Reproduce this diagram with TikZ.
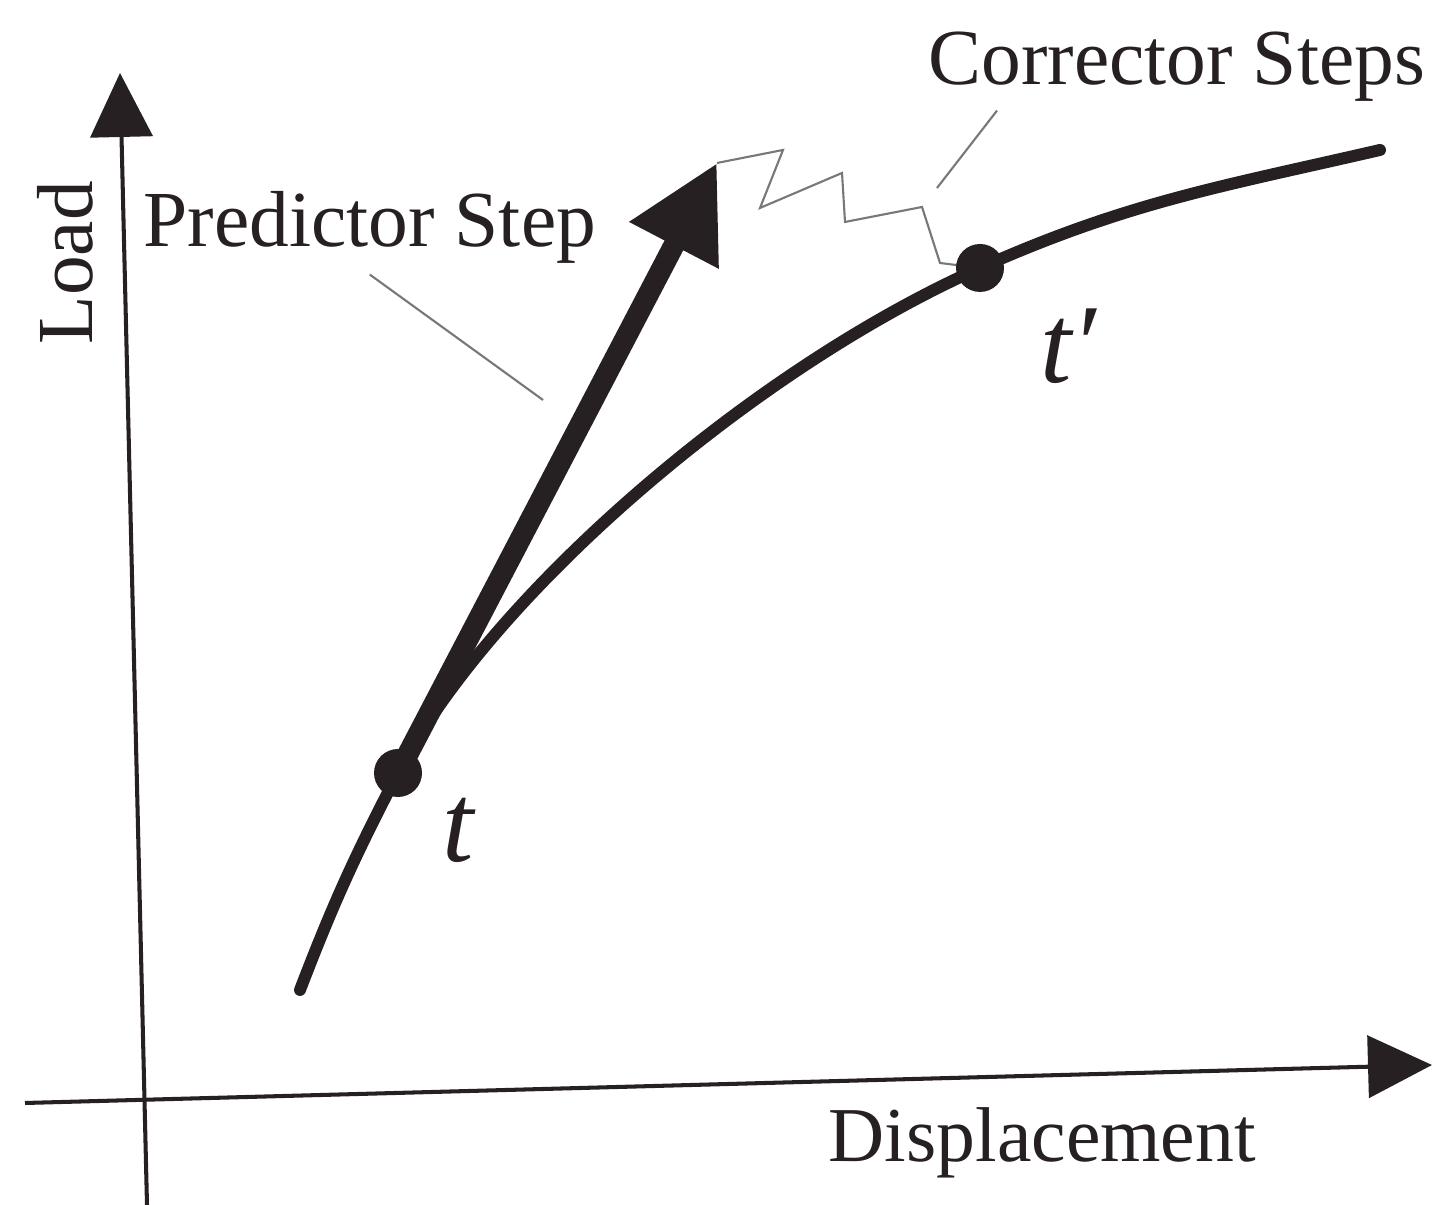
\documentclass[tikz,border=0pt]{standalone}
\usepackage{fontspec}
\setmainfont{Liberation Serif}
\usepackage{tikz}
\usetikzlibrary{arrows.meta,positioning,calc}
\definecolor{ink}{RGB}{38,32,34}
\definecolor{leadgray}{RGB}{120,120,120}
\tikzstyle{axis} = [draw=ink, line width=1.15pt, -{Triangle[length=6.4mm,width=6.2mm]}]
\tikzstyle{loadpath} = [draw=ink, line width=3.4pt, line cap=round]
\tikzstyle{predictor} = [draw=ink, fill=ink, line width=6pt, -{Triangle[length=9.3mm,width=9.5mm]}]
\tikzstyle{corrector} = [draw=leadgray, line width=0.6pt, line join=miter]
\tikzstyle{leaderline} = [draw=leadgray, line width=0.6pt]
\tikzstyle{dot} = [circle, fill=ink, minimum size=4.8mm, inner sep=0pt]
\tikzstyle{caption} = [inner sep=0pt, text=ink, font=\fontsize{22.6}{27}\selectfont]
\tikzstyle{point} = [inner sep=0pt, text=ink, font=\fontsize{32}{38}\selectfont\itshape]

\begin{document}
\begin{tikzpicture}
    \useasboundingbox (0,0) rectangle (14.44,12.05);
    \fill [white] (0,0) rectangle (14.44,12.05);
    % Axes
    \coordinate (y_start) at (1.47,0);
    \coordinate (load_tip) at (1.20,11.32);
    \coordinate (x_start) at (0.25,1.02);
    \coordinate (disp_tip) at (14.32,1.40);
    \draw [axis] (y_start) -- (load_tip);
    \draw [axis] (x_start) -- (disp_tip);

    % Equilibrium path
    \coordinate (t) at (3.98,4.32);
    \coordinate (tp) at (9.80,9.37);
    \coordinate (path_start) at (3.00,2.15);
    \coordinate (path_end) at (13.80,10.55);
    \draw [loadpath] (path_start) to[out=69, in=242.5] (t)
        .. controls +(62.5:2.0) and +(204:2.5) .. (tp)
        to[out=24, in=193] (path_end);

    % Predictor and corrector steps
    \coordinate (pred_tip) at (7.17,10.42);
    \draw [predictor] (t) -- (pred_tip);
    \draw [corrector] (pred_tip) -- (7.83,10.55) -- (7.60,9.97) -- (8.42,10.32) -- (8.45,9.83) -- (9.22,9.98) -- (9.40,9.42) -- (tp);
    \node [dot] (t_dot) at (t) {};
    \node [dot] (tp_dot) at (tp) {};

    % Labels
    \node [caption, rotate=90, anchor=base west] (load) at (0.92,8.60) {Load};
    \node [caption, font=\fontsize{22.1}{27}\selectfont, anchor=base west] (disp) at (8.28,0.43) {Displacement};
    \node [caption, anchor=base west] (pred) at (1.43,9.58) {Predictor Step};
    \node [caption, anchor=base west] (corr) at (9.28,11.20) {Corrector Steps};
    \node [point, anchor=base west] (t_label) at (4.42,3.43) {t};
    \node [point, anchor=base west] (tp_label) at (10.40,8.22) {t′};

    % Leaders
    \coordinate (pred_end) at (5.43,8.05);
    \coordinate (corr_end) at (9.37,10.17);
    \draw [leaderline] ([yshift=-1mm]pred.south) -- (pred_end);
    \draw [leaderline] ([shift={(0.69,-0.08)}]corr.south west) -- (corr_end);
\end{tikzpicture}
\end{document}
